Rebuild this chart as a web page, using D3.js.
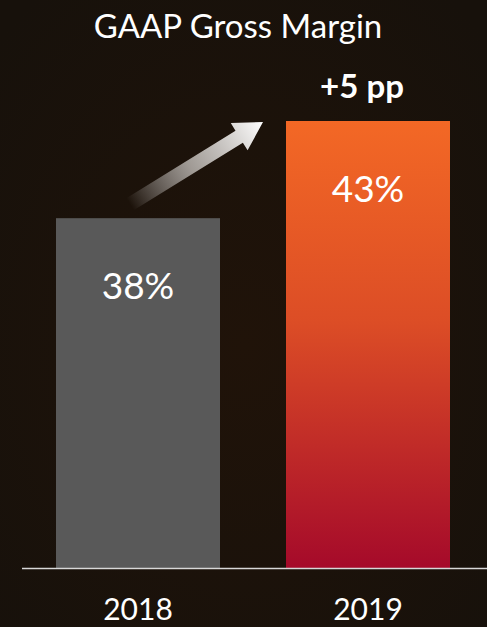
<!DOCTYPE html>
<html><head><meta charset="utf-8">
<script src="https://cdn.jsdelivr.net/npm/d3@7"></script>
<style>
html,body{margin:0;padding:0;background:#1b140d;}
svg{display:block;}
text{font-family:Lato,"Open Sans",sans-serif;fill:#fff;}
</style></head>
<body>
<script>
const categories = ["2018", "2019"];
const values = [38, 43];
const valueLabels = ["38%", "43%"];
const title = "GAAP Gross Margin";
const changeLabel = "+5 pp";

const W = 487, H = 627;
const svg = d3.select("body").append("svg").attr("width", W).attr("height", H);
const defs = svg.append("defs");

const bg = defs.append("radialGradient").attr("id","bg").attr("cx","50%").attr("cy","55%").attr("r","70%");
bg.append("stop").attr("offset","0%").attr("stop-color","#201309");
bg.append("stop").attr("offset","100%").attr("stop-color","#17110b");
svg.append("rect").attr("width",W).attr("height",H).attr("fill","url(#bg)");

const x = d3.scaleBand().domain(categories).range([56, 450]).paddingInner(0.287).paddingOuter(0);
const y = d3.scaleLinear().domain([20, 43]).range([568, 121]);

const og = defs.append("linearGradient").attr("id","og").attr("x1",0).attr("y1",0).attr("x2",0).attr("y2",1);
og.append("stop").attr("offset","0%").attr("stop-color","#f36825");
og.append("stop").attr("offset","45%").attr("stop-color","#dc4d26");
og.append("stop").attr("offset","100%").attr("stop-color","#a50a2a");

const fills = ["#595959", "url(#og)"];

svg.selectAll("rect.bar").data(values).join("rect").attr("class","bar")
  .attr("x",(d,i)=>x(categories[i])).attr("width",x.bandwidth())
  .attr("y",d=>y(d)).attr("height",d=>y(20)-y(d))
  .attr("fill",(d,i)=>fills[i]);

svg.selectAll("text.val").data(values).join("text").attr("class","val")
  .attr("x",(d,i)=>x(categories[i])+x.bandwidth()/2)
  .attr("y",d=>y(d)+81).attr("text-anchor","middle")
  .attr("font-size",37).text((d,i)=>valueLabels[i]);

// baseline
svg.append("line").attr("x1",22).attr("x2",487).attr("y1",y(20)+0.5).attr("y2",y(20)+0.5)
  .attr("stroke","#d8d8d8").attr("stroke-width",1.5);

// axis labels
svg.selectAll("text.cat").data(categories).join("text").attr("class","cat")
  .attr("x",d=>x(d)+x.bandwidth()/2).attr("y",620).attr("text-anchor","middle")
  .attr("font-size",30).text(d=>d);

// title
svg.append("text").attr("x",238).attr("y",38).attr("text-anchor","middle")
  .attr("font-size",33).text(title);

// change label
svg.append("text").attr("x",x(categories[1])+x.bandwidth()/2 - 6).attr("y",98).attr("text-anchor","middle")
  .attr("font-size",33).attr("font-weight","bold").text(changeLabel);

// arrow from bar 1 top to bar 2 top
const tail = [x(categories[0]) + x.bandwidth()/2 - 8, y(values[0]) - 14];
const tip = [x(categories[1]) - 23, y(values[1]) + 1];
const dx = tip[0]-tail[0], dy = tip[1]-tail[1];
const len = Math.hypot(dx,dy), ang = Math.atan2(dy,dx)*180/Math.PI;
const ag = defs.append("linearGradient").attr("id","ag").attr("x1",0).attr("y1",0).attr("x2",len).attr("y2",0).attr("gradientUnits","userSpaceOnUse");
ag.append("stop").attr("offset","0%").attr("stop-color","#fff").attr("stop-opacity",0);
ag.append("stop").attr("offset","45%").attr("stop-color","#d8d4d0").attr("stop-opacity",0.7);
ag.append("stop").attr("offset","100%").attr("stop-color","#ffffff").attr("stop-opacity",1);
const sw = 7, hl = 28, hw = 16;
svg.append("path")
  .attr("transform",`translate(${tail[0]},${tail[1]}) rotate(${ang})`)
  .attr("d",`M0,${-sw} L${len-hl},${-sw} L${len-hl},${-hw} L${len},0 L${len-hl},${hw} L${len-hl},${sw} L0,${sw} Z`)
  .attr("fill","url(#ag)");
</script>
</body></html>
